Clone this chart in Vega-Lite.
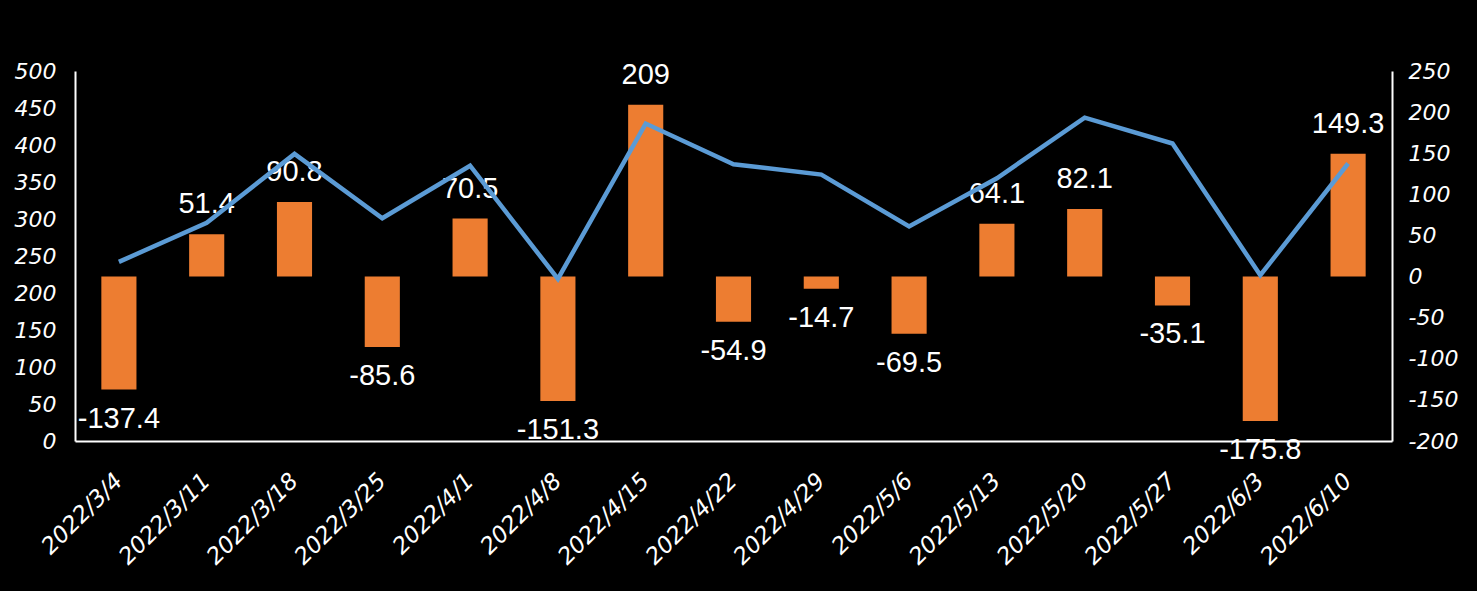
{
  "$schema": "https://vega.github.io/schema/vega-lite/v6.json",
  "autosize": {"type": "none"},
  "width": 1317,
  "height": 370,
  "padding": {"left": 75, "top": 71, "right": 85, "bottom": 150},
  "background": "#000000",
  "config": {"view": {"stroke": null}, "axis": {"grid": false, "domainColor": "#FFFFFF", "domainWidth": 2, "ticks": false, "labelColor": "#FFFFFF", "labelFont": "DejaVu Sans", "labelFontStyle": "italic", "labelFontSize": 22, "labelOverlap": false}},
  "data": {"values": [
    {"date": "2022/3/4", "change": -137.4, "level": 242},
    {"date": "2022/3/11", "change": 51.4, "level": 295},
    {"date": "2022/3/18", "change": 90.8, "level": 388},
    {"date": "2022/3/25", "change": -85.6, "level": 301},
    {"date": "2022/4/1", "change": 70.5, "level": 372},
    {"date": "2022/4/8", "change": -151.3, "level": 219},
    {"date": "2022/4/15", "change": 209, "level": 429},
    {"date": "2022/4/22", "change": -54.9, "level": 374},
    {"date": "2022/4/29", "change": -14.7, "level": 360},
    {"date": "2022/5/6", "change": -69.5, "level": 290},
    {"date": "2022/5/13", "change": 64.1, "level": 355},
    {"date": "2022/5/20", "change": 82.1, "level": 437},
    {"date": "2022/5/27", "change": -35.1, "level": 402},
    {"date": "2022/6/3", "change": -175.8, "level": 224},
    {"date": "2022/6/10", "change": 149.3, "level": 375}
  ]},
  "encoding": {
    "x": {"field": "date", "type": "nominal", "sort": null, "title": null,
      "scale": {"paddingInner": 0.6, "paddingOuter": 0.3},
      "axis": {"labelAngle": -45, "labelAlign": "right", "labelBaseline": "middle", "labelPadding": 36, "labelFontSize": 23, "zindex": 1}}
  },
  "layer": [
    {
      "layer": [
        {"mark": {"type": "bar", "color": "#ED7D31"},
         "encoding": {"y": {"field": "change", "type": "quantitative", "title": null,
           "scale": {"domain": [-200, 250], "nice": false, "zero": false},
           "axis": {"orient": "right", "values": [-200,-150,-100,-50,0,50,100,150,200,250], "labelPadding": 16, "labelAlign": "left", "labelExpr": "'' + datum.value"}}}},
        {"transform": [{"filter": "datum.change >= 0"}],
         "mark": {"type": "text", "color": "#FFFFFF", "font": "Liberation Sans", "fontSize": 29, "baseline": "alphabetic", "dy": -21},
         "encoding": {"y": {"field": "change", "type": "quantitative"}, "text": {"field": "change", "type": "nominal"}}},
        {"transform": [{"filter": "datum.change < 0"}],
         "mark": {"type": "text", "color": "#FFFFFF", "font": "Liberation Sans", "fontSize": 29, "baseline": "alphabetic", "dy": 38},
         "encoding": {"y": {"field": "change", "type": "quantitative"}, "text": {"field": "change", "type": "nominal"}}}
      ]
    },
    {
      "mark": {"type": "line", "color": "#5B9BD5", "strokeWidth": 4.5},
      "encoding": {"y": {"field": "level", "type": "quantitative", "title": null,
        "scale": {"domain": [0, 500], "nice": false},
        "axis": {"orient": "left", "values": [0,50,100,150,200,250,300,350,400,450,500], "labelPadding": 19}}}
    }
  ],
  "resolve": {"scale": {"y": "independent"}}
}
